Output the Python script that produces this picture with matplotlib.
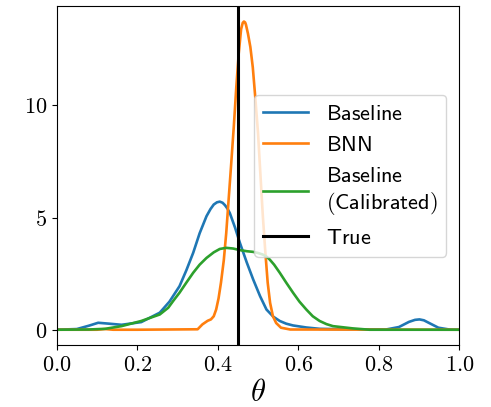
import matplotlib
matplotlib.use("Agg")
import matplotlib.pyplot as plt
from matplotlib.ticker import FuncFormatter

plt.rcParams['mathtext.fontset'] = 'cm'

# Baseline curve (theta, density)
base_x = [0.0, 0.05, 0.08, 0.103, 0.13, 0.161, 0.21, 0.256, 0.28, 0.305, 0.322, 0.339, 0.355, 0.372,
          0.382, 0.39, 0.398, 0.405, 0.412, 0.418, 0.424, 0.43, 0.443, 0.455, 0.472, 0.488, 0.505,
          0.521, 0.538, 0.554, 0.57, 0.587, 0.62, 0.653, 0.72, 0.818, 0.85, 0.875, 0.89, 0.901,
          0.912, 0.925, 0.948, 0.975, 1.0]
base_y = [0.0, 0.03, 0.18, 0.31, 0.27, 0.22, 0.34, 0.76, 1.25, 1.94, 2.65, 3.43, 4.3, 5.06,
          5.38, 5.58, 5.68, 5.71, 5.66, 5.55, 5.4, 5.2, 4.55, 3.87, 3.0, 2.24, 1.5,
          0.9, 0.58, 0.39, 0.27, 0.19, 0.1, 0.04, 0.02, 0.01, 0.12, 0.35, 0.44, 0.46,
          0.42, 0.3, 0.09, 0.01, 0.0]

# BNN curve
bnn_x = [0.0, 0.1, 0.12, 0.14, 0.2, 0.35, 0.362, 0.375, 0.383, 0.39, 0.396, 0.402, 0.408, 0.415,
         0.421, 0.427, 0.433, 0.44, 0.446, 0.452, 0.458, 0.462, 0.465, 0.468, 0.47, 0.475, 0.481,
         0.487, 0.493, 0.5, 0.506, 0.512, 0.518, 0.524, 0.53, 0.537, 0.545, 0.557, 0.58, 1.0]
bnn_y = [0.0, 0.0, 0.03, 0.0, 0.0, 0.02, 0.24, 0.4, 0.46, 0.6, 0.9, 1.4, 2.1, 3.1,
         4.3, 5.8, 7.3, 9.1, 10.8, 12.3, 13.4, 13.68, 13.74, 13.7, 13.6, 13.2, 12.6,
         11.7, 10.4, 8.77, 6.9, 5.06, 3.5, 2.1, 1.2, 0.6, 0.3, 0.09, 0.01, 0.0]

# Baseline (Calibrated) curve
cal_x = [0.0, 0.08, 0.12, 0.161, 0.21, 0.256, 0.277, 0.29, 0.305, 0.322, 0.339, 0.355, 0.372,
         0.39, 0.405, 0.421, 0.438, 0.455, 0.472, 0.488, 0.5, 0.512, 0.521, 0.529, 0.54, 0.554,
         0.57, 0.587, 0.603, 0.62, 0.636, 0.653, 0.67, 0.686, 0.735, 0.777, 1.0]
cal_y = [0.0, 0.01, 0.04, 0.16, 0.39, 0.68, 0.98, 1.3, 1.65, 2.1, 2.54, 2.9, 3.2,
         3.45, 3.6, 3.65, 3.62, 3.55, 3.5, 3.47, 3.42, 3.35, 3.26, 3.13, 2.9, 2.54,
         2.1, 1.65, 1.25, 0.9, 0.6, 0.39, 0.25, 0.16, 0.06, 0.0, 0.0]

true_theta = 0.45

fig = plt.figure(figsize=(4.91, 4.07), dpi=100)
ax = fig.add_axes([0.1155, 0.152, 0.82, 0.833])

ax.plot(base_x, base_y, color='#1f77b4', lw=1.9, label='$\\mathsf{Baseline}$')
ax.plot(bnn_x, bnn_y, color='#ff7f0e', lw=1.9, label='$\\mathsf{BNN}$')
ax.plot(cal_x, cal_y, color='#2ca02c', lw=1.9, label='$\\mathsf{Baseline}$\n$\\mathsf{(Calibrated)}$')
ax.axvline(true_theta, color='black', lw=2.2, label='$\\mathsf{True}$')

ax.set_xlim(0, 1)
ax.set_xticks([0.0, 0.2, 0.4, 0.6, 0.8, 1.0])
ax.set_yticks([0, 5, 10])
ax.xaxis.set_major_formatter(FuncFormatter(lambda v, p: f"${v:.1f}$"))
ax.yaxis.set_major_formatter(FuncFormatter(lambda v, p: f"${int(v)}$"))
ax.tick_params(labelsize=16)
ax.set_xlabel('$\\theta$', fontsize=22, labelpad=2)

ax.legend(loc='center right', fontsize=16, handlelength=2.0, borderaxespad=0.6)

fig.savefig('out.png', dpi=100)
